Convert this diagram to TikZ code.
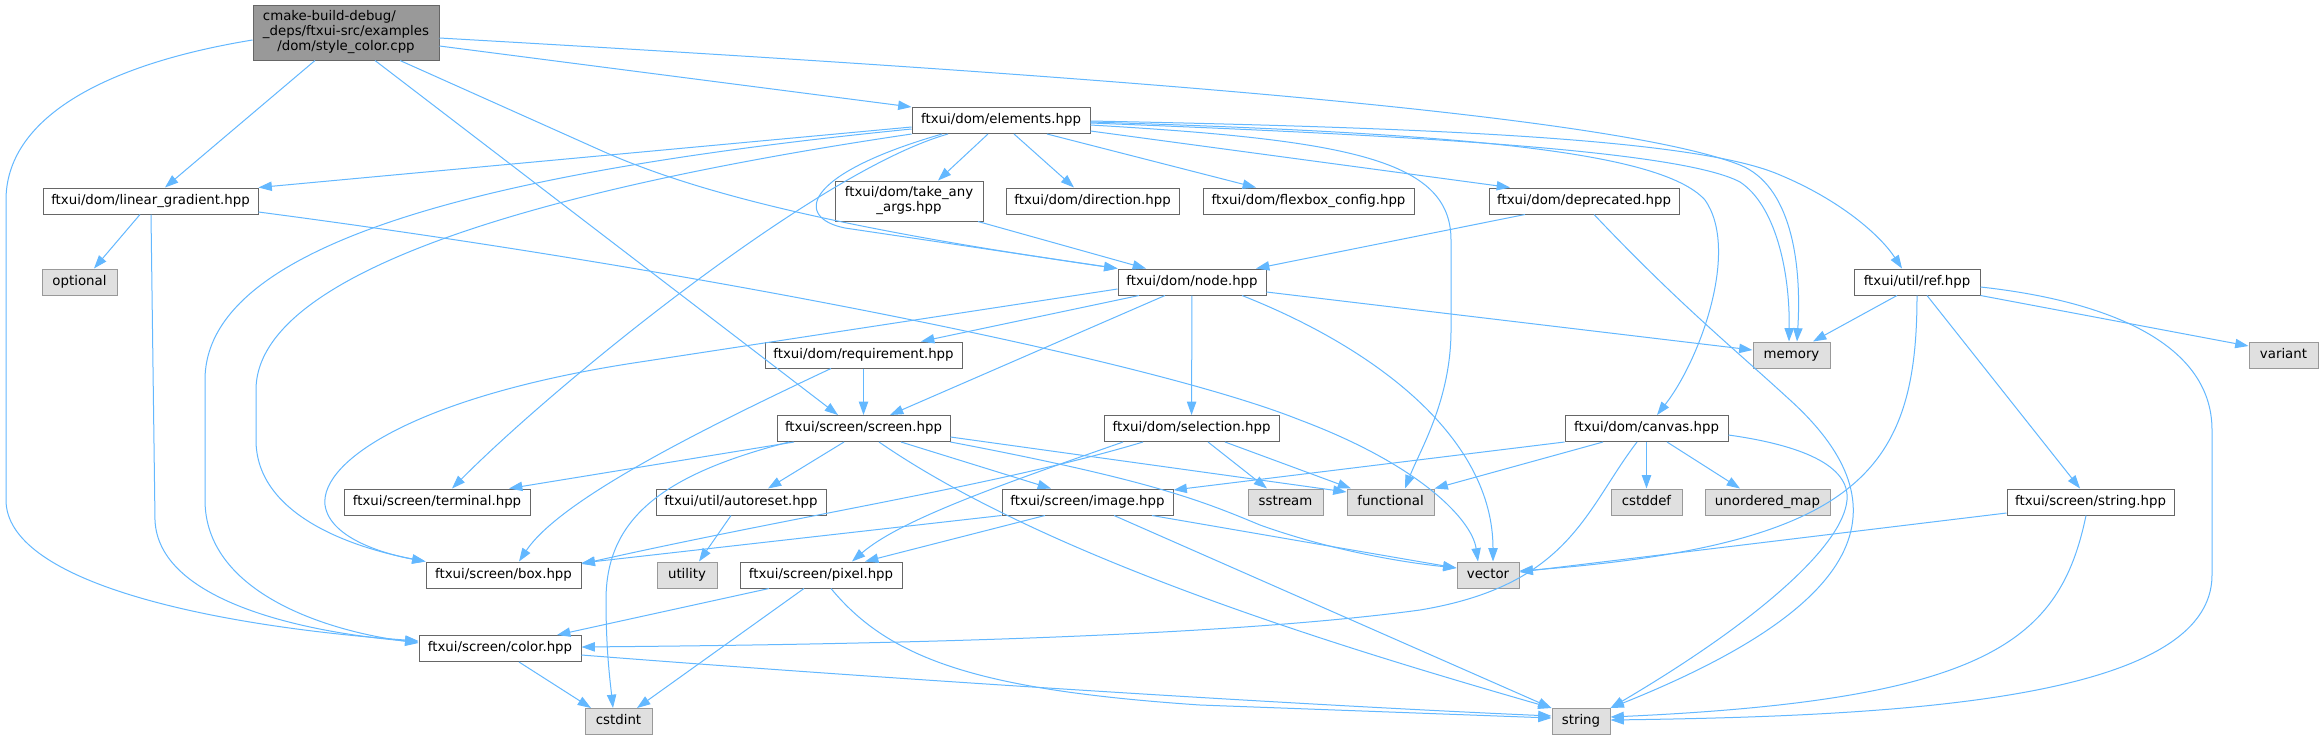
\documentclass[tikz,border=0pt]{standalone}
\usepackage{fontspec}
\setmainfont{DejaVu Sans}
\usetikzlibrary{arrows.meta}
\definecolor{edgec}{HTML}{63B8FF}
\definecolor{hdrdraw}{HTML}{666666}
\definecolor{sysfill}{HTML}{E0E0E0}
\definecolor{sysdraw}{HTML}{999999}
\definecolor{rootfill}{HTML}{999999}
\tikzset{
  boxbase/.style={line width=0.75pt, inner sep=0pt, minimum height=19.5pt, font=\fontsize{10}{11.25}\selectfont, text=black},
  hdr/.style={boxbase, draw=hdrdraw, fill=white, text height=7.4pt, text depth=2.3pt},
  sys/.style={boxbase, draw=sysdraw, fill=sysfill, text height=7.4pt, text depth=2.3pt},
  multi/.style={boxbase, draw=hdrdraw, fill=white},
  rootn/.style={boxbase, draw=hdrdraw, fill=rootfill},
  dep/.style={draw=edgec, line width=0.75pt, -{Triangle[length=10pt,width=7pt]}}
}
\begin{document}
\begin{tikzpicture}[x=0.75pt,y=-0.75pt]
\useasboundingbox (0,0) rectangle (2323,740);
\fill[white] (0,0) rectangle (2323,740);
% nodes
\node[rootn, minimum width=139.5pt, minimum height=41.25pt] (cpp) at (346,32.5)
  {\begin{tabular}{@{}l@{}}cmake-build-debug/\\\_deps/ftxui-src/examples\\\multicolumn{1}{@{}c@{}}{/dom/style\_color.cpp}\end{tabular}};
\node[hdr, minimum width=133.5pt] (elem) at (1001,120.5) {ftxui/dom/elements.hpp};
\node[hdr, minimum width=161.25pt] (lg) at (150.5,201) {ftxui/dom/linear\_gradient.hpp};
\node[multi, minimum width=111pt, minimum height=30pt] (take) at (909,201)
  {\begin{tabular}{@{}l@{}}ftxui/dom/take\_any\\\multicolumn{1}{@{}c@{}}{\_args.hpp}\end{tabular}};
\node[hdr, minimum width=129.75pt] (dir) at (1092.5,201) {ftxui/dom/direction.hpp};
\node[hdr, minimum width=158.25pt] (flex) at (1308.5,201) {ftxui/dom/flexbox\_config.hpp};
\node[hdr, minimum width=142.5pt] (depr) at (1584,201) {ftxui/dom/deprecated.hpp};
\node[sys, minimum width=56.25pt] (opt) at (79.5,282) {optional};
\node[hdr, minimum width=111pt] (nd) at (1192,282) {ftxui/dom/node.hpp};
\node[hdr, minimum width=94.5pt] (ref) at (1917,282) {ftxui/util/ref.hpp};
\node[sys, minimum width=57.75pt] (memory) at (1791.5,355) {memory};
\node[sys, minimum width=51.75pt] (variant) at (2283.5,355) {variant};
\node[hdr, minimum width=147.75pt] (req) at (863.5,355) {ftxui/dom/requirement.hpp};
\node[hdr, minimum width=129.75pt] (screen) at (863.5,428.5) {ftxui/screen/screen.hpp};
\node[hdr, minimum width=131.25pt] (sel) at (1191.5,428.5) {ftxui/dom/selection.hpp};
\node[hdr, minimum width=122.25pt] (canvas) at (1646.5,428.5) {ftxui/dom/canvas.hpp};
\node[hdr, minimum width=139.5pt] (term) at (437,502) {ftxui/screen/terminal.hpp};
\node[hdr, minimum width=127.5pt] (autoreset) at (741,502) {ftxui/util/autoreset.hpp};
\node[hdr, minimum width=128.25pt] (image) at (1087.5,502) {ftxui/screen/image.hpp};
\node[sys, minimum width=56.25pt] (sstream) at (1285.5,502) {sstream};
\node[sys, minimum width=65.25pt] (functional) at (1390.5,502) {functional};
\node[sys, minimum width=53.25pt] (cstddef) at (1646.5,502) {cstddef};
\node[sys, minimum width=93.75pt] (umap) at (1767.5,502) {unordered\_map};
\node[hdr, minimum width=125.25pt] (sstring) at (2090.5,502) {ftxui/screen/string.hpp};
\node[hdr, minimum width=116.25pt] (box) at (503.5,575) {ftxui/screen/box.hpp};
\node[sys, minimum width=45pt] (utility) at (687,575) {utility};
\node[hdr, minimum width=121.5pt] (pixel) at (821,575) {ftxui/screen/pixel.hpp};
\node[sys, minimum width=46.5pt] (vector) at (1488,575) {vector};
\node[hdr, minimum width=121.5pt] (color) at (500,648.5) {ftxui/screen/color.hpp};
\node[sys, minimum width=50.25pt] (cstdint) at (618.5,721.5) {cstdint};
\node[sys, minimum width=43.5pt] (string) at (1581,721.5) {string};
% edges from style_color.cpp
\draw[dep] (cpp.east |- 0,46) -- (elem.north west);
\draw[dep] (cpp.south -| 315,0) -- (lg.north -| 165,0);
\draw[dep] (cpp.south -| 375,0) -- (screen.north -| 838,0);
\draw[dep] (cpp.south -| 400,0) -- (600,150) .. controls (700,195) and (850,230) .. (nd.north west);
\draw[dep] (cpp.east |- 0,38) .. controls (1000,70) and (1600,110) .. (1740,165) .. controls (1790,185) and (1802,260) .. (memory.north -| 1797,0);
\draw[dep] (cpp.west |- 0,40) .. controls (100,65) and (6,120) .. (6,200) -- (6,500) .. controls (6,580) and (200,625) .. (color.west |- 0,641);
% edges from elements.hpp
\draw[dep] (elem.west |- 0,127) -- (lg.north east);
\draw[dep] (elem.south -| 988,0) -- (take.north -| 938,0);
\draw[dep] (elem.south -| 1014,0) -- (dir.north -| 1074,0);
\draw[dep] (elem.south -| 1047,0) -- (flex.north -| 1256,0);
\draw[dep] (elem.east |- 0,131) -- (depr.north -| 1510,0);
\draw[dep] (elem.south -| 942,0) .. controls (800,175) and (795,218) .. (845,228) -- (nd.north west);
\draw[dep] (elem.east |- 0,123) .. controls (1400,135) and (1680,150) .. (1740,182) .. controls (1775,205) and (1790,270) .. (memory.north -| 1789,0);
\draw[dep] (elem.east |- 0,121) .. controls (1450,128) and (1700,140) .. (1780,175) .. controls (1840,200) and (1880,235) .. (ref.north -| 1902,0);
\draw[dep] (elem.east |- 0,122) .. controls (1450,133) and (1660,150) .. (1705,200) .. controls (1740,250) and (1700,360) .. (canvas.north -| 1657,0);
\draw[dep] (elem.east |- 0,125) .. controls (1350,140) and (1451,160) .. (1451,240) -- (1451,330) .. controls (1451,400) and (1420,450) .. (functional.north -| 1405,0);
\draw[dep] (elem.west |- 0,129) .. controls (500,170) and (205,240) .. (205,380) -- (205,500) .. controls (205,590) and (320,630) .. (color.west |- 0,643);
\draw[dep] (elem.south west) .. controls (600,180) and (256,260) .. (256,390) -- (256,440) .. controls (256,510) and (340,545) .. (box.north west);
\draw[dep] (elem.south -| 948,0) .. controls (820,170) and (560,380) .. (term.north -| 452,0);
% linear_gradient
\draw[dep] (lg.south -| 140,0) -- (opt.north -| 94,0);
\draw[dep] (lg.south -| 151,0) -- (155,520) .. controls (158,600) and (300,632) .. (color.west |- 0,642);
\draw[dep] (lg.east |- 0,212) .. controls (700,270) and (1150,360) .. (1300,420) .. controls (1420,465) and (1472,520) .. (vector.north -| 1478,0);
% take_any_args, deprecated
\draw[dep] (take.south -| 978,0) -- (nd.north -| 1146,0);
\draw[dep] (depr.south -| 1525,0) -- (nd.north -| 1256,0);
\draw[dep] (depr.south -| 1594,0) .. controls (1680,305) and (1730,345) .. (1790,400) .. controls (1900,500) and (1880,600) .. (string.north east);
% ref
\draw[dep] (ref.south -| 1897,0) -- (memory.north -| 1813,0);
\draw[dep] (ref.south -| 1917,0) .. controls (1917,470) and (1860,545) .. (vector.east |- 0,571);
\draw[dep] (ref.south -| 1927,0) -- (sstring.north -| 2080,0);
\draw[dep] (ref.south east) -- (variant.west |- 0,346);
\draw[dep] (ref.east |- 0,287) .. controls (2100,300) and (2212,340) .. (2212,430) -- (2212,575) .. controls (2212,700) and (1900,716) .. (string.east |- 0,720);
% node.hpp
\draw[dep] (nd.south -| 1165,0) -- (screen.north -| 890,0);
\draw[dep] (nd.south -| 1139,0) -- (req.north -| 921,0);
\draw[dep] (nd) -- (sel);
\draw[dep] (nd.south -| 1242,0) .. controls (1380,350) and (1493,440) .. (vector.north -| 1493,0);
\draw[dep] (nd.east |- 0,292) -- (memory.west |- 0,350);
\draw[dep] (nd.west |- 0,289) -- (640,362) .. controls (420,395) and (320,460) .. (325,505) .. controls (330,540) and (390,555) .. (box.north west);
% requirement
\draw[dep] (req) -- (screen);
\draw[dep] (req.south -| 831,0) .. controls (700,430) and (560,500) .. (box.north -| 519,0);
% screen
\draw[dep] (screen.south -| 794,0) -- (term.north -| 509,0);
\draw[dep] (screen.south -| 844,0) -- (autoreset.north -| 768,0);
\draw[dep] (screen.south -| 901,0) -- (image.north -| 1051,0);
\draw[dep] (screen.south -| 879,0) .. controls (1050,560) and (1350,650) .. (string.north west);
\draw[dep] (screen.east |- 0,437) -- (functional.west |- 0,492);
\draw[dep] (screen.south east) .. controls (1150,480) and (1200,500) .. (1260,525) .. controls (1330,550) and (1400,562) .. (vector.west |- 0,568);
\draw[dep] (screen.south -| 789,0) .. controls (660,475) and (606,520) .. (606,600) .. controls (606,650) and (610,680) .. (cstdint.north -| 613,0);
% selection
\draw[dep] (sel.south -| 1143,0) .. controls (1000,485) and (800,515) .. (box.east |- 0,564);
\draw[dep] (sel.south -| 1123,0) .. controls (1000,485) and (900,520) .. (pixel.north -| 852,0);
\draw[dep] (sel.south -| 1208,0) -- (sstream.north -| 1267,0);
\draw[dep] (sel.south -| 1225,0) -- (functional.north -| 1351,0);
% canvas
\draw[dep] (canvas.south west) -- (image.east |- 0,490);
\draw[dep] (canvas.south -| 1603,0) -- (functional.north east);
\draw[dep] (canvas) -- (cstddef);
\draw[dep] (canvas.south -| 1667,0) -- (umap.north -| 1740,0);
\draw[dep] (canvas.south -| 1637,0) .. controls (1585,510) and (1570,585) .. (1420,610) .. controls (1200,640) and (800,645) .. (color.east |- 0,647);
\draw[dep] (canvas.east |- 0,435) .. controls (1800,445) and (1850,465) .. (1847,500) .. controls (1843,545) and (1760,620) .. (string.north east);
% autoreset
\draw[dep] (autoreset.south -| 731,0) -- (utility.north -| 699,0);
% image
\draw[dep] (image.south west) -- (box.east |- 0,563);
\draw[dep] (image.south -| 1045,0) -- (pixel.north -| 865,0);
\draw[dep] (image.south -| 1152,0) -- (vector.west |- 0,568);
\draw[dep] (image.south -| 1114,0) -- (string.north west);
% screen/string
\draw[dep] (sstring.west |- 0,513) -- (vector.east |- 0,572);
\draw[dep] (sstring.south -| 2086,0) .. controls (2060,640) and (1990,700) .. (string.east |- 0,717);
% pixel
\draw[dep] (pixel.south -| 769,0) -- (color.north -| 557,0);
\draw[dep] (pixel.south -| 804,0) -- (cstdint.north -| 637,0);
\draw[dep] (pixel.south -| 831,0) .. controls (890,660) and (980,690) .. (1200,705) -- (string.west |- 0,718);
% color
\draw[dep] (color.south -| 519,0) -- (cstdint.north -| 591,0);
\draw[dep] (color.east |- 0,655) .. controls (900,680) and (1300,705) .. (string.west |- 0,716);
\end{tikzpicture}
\end{document}
